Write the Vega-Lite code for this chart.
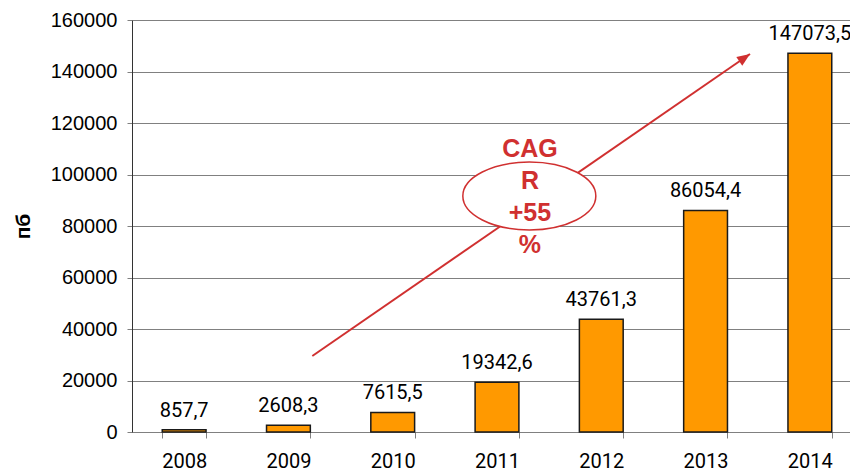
{
  "$schema": "https://vega.github.io/schema/vega-lite/v6.json",
  "width": 718,
  "height": 412,
  "autosize": "none",
  "padding": {"left": 132, "top": 20, "right": 0, "bottom": 40},
  "background": "white",
  "config": {"view": {"stroke": null}},
  "datasets": {
    "bars": [
      {"year": "2008", "value": 857.7, "label": "857,7"},
      {"year": "2009", "value": 2608.3, "label": "2608,3"},
      {"year": "2010", "value": 7615.5, "label": "7615,5"},
      {"year": "2011", "value": 19342.6, "label": "19342,6"},
      {"year": "2012", "value": 43761.3, "label": "43761,3"},
      {"year": "2013", "value": 86054.4, "label": "86054,4"},
      {"year": "2014", "value": 147073.5, "label": "147073,5"}
    ],
    "arrow": [{"ax": 1.729, "value": 29515, "ax2": 5.926, "value2": 146796}],
    "head": [{"ax": 5.926, "value": 146796}],
    "oval": [{"ax": 3.81, "value": 91650}],
    "note": [{"ax": 3.816, "value": 91068, "t": "CAG|R|+55|%"}]
  },
  "layer": [
    {
      "data": {"name": "bars"},
      "mark": {"type": "bar", "color": "#FF9900", "stroke": "#1a1a1a", "strokeWidth": 1.5},
      "encoding": {
        "x": {
          "field": "year", "type": "nominal",
          "scale": {"range": [0, 730], "paddingInner": 0.58, "paddingOuter": 0.29},
          "axis": {
            "title": null, "labelAngle": 0, "labelFont": "Roboto", "labelFontSize": 20,
            "labelColor": "#000", "labelPadding": 13, "tickBand": "extent",
            "tickColor": "#808080", "tickSize": 6, "domainColor": "#808080", "grid": false
          }
        },
        "y": {
          "field": "value", "type": "quantitative",
          "scale": {"domain": [0, 160000], "nice": false},
          "axis": {
            "title": "пб", "values": [0, 20000, 40000, 60000, 80000, 100000, 120000, 140000, 160000],
            "format": "d", "labelFont": "Liberation Sans", "labelFontSize": 20, "labelColor": "#000",
            "labelPadding": 10, "tickSize": 5, "tickColor": "#808080", "grid": true,
            "gridColor": "#808080", "domainColor": "#333", "titleFont": "Liberation Sans",
            "titleFontSize": 21, "titleFontWeight": "bold", "titleColor": "#000",
            "titleAngle": -90, "titleX": -109, "titleY": 206, "titleAlign": "center", "titleBaseline": "middle"
          }
        }
      }
    },
    {
      "data": {"name": "arrow"},
      "mark": {"type": "rule", "color": "#d03030", "strokeWidth": 2},
      "encoding": {
        "x": {"field": "ax", "type": "quantitative", "scale": {"domain": [0, 7], "range": [0, 730], "nice": false, "zero": false}, "axis": null},
        "x2": {"field": "ax2"},
        "y": {"field": "value", "type": "quantitative", "scale": {"domain": [0, 160000], "nice": false}},
        "y2": {"field": "value2"}
      }
    },
    {
      "data": {"name": "head"},
      "mark": {"type": "point", "shape": "M0,0 L-0.4,1 L0.4,1 Z", "size": 676, "filled": true, "color": "#d03030", "opacity": 1, "angle": 55.4},
      "encoding": {
        "x": {"field": "ax", "type": "quantitative", "scale": {"domain": [0, 7], "range": [0, 730], "nice": false, "zero": false}, "axis": null},
        "y": {"field": "value", "type": "quantitative", "scale": {"domain": [0, 160000], "nice": false}}
      }
    },
    {
      "data": {"name": "oval"},
      "mark": {"type": "point", "shape": "M-1,0 A1,0.51,0,1,1,1,0 A1,0.51,0,1,1,-1,0 Z", "size": 17689, "fill": "white", "fillOpacity": 1, "stroke": "#d03030", "strokeWidth": 1.5, "opacity": 1},
      "encoding": {
        "x": {"field": "ax", "type": "quantitative", "scale": {"domain": [0, 7], "range": [0, 730], "nice": false, "zero": false}, "axis": null},
        "y": {"field": "value", "type": "quantitative", "scale": {"domain": [0, 160000], "nice": false}}
      }
    },
    {
      "data": {"name": "note"},
      "mark": {"type": "text", "font": "Liberation Sans", "fontSize": 25, "fontWeight": "bold", "color": "#d03030", "lineBreak": "|", "lineHeight": 32, "align": "center", "baseline": "middle", "dy": -48},
      "encoding": {
        "x": {"field": "ax", "type": "quantitative", "scale": {"domain": [0, 7], "range": [0, 730], "nice": false, "zero": false}, "axis": null},
        "y": {"field": "value", "type": "quantitative", "scale": {"domain": [0, 160000], "nice": false}},
        "text": {"field": "t", "type": "nominal"}
      }
    },
    {
      "data": {"name": "bars"},
      "mark": {"type": "text", "font": "Roboto", "fontSize": 20, "color": "#000", "baseline": "alphabetic", "dy": -13},
      "encoding": {
        "x": {"field": "year", "type": "nominal", "scale": {"range": [0, 730], "paddingInner": 0.58, "paddingOuter": 0.29}, "axis": null},
        "y": {"field": "value", "type": "quantitative", "scale": {"domain": [0, 160000], "nice": false}},
        "text": {"field": "label", "type": "nominal"}
      }
    }
  ],
  "resolve": {"scale": {"x": "independent"}, "axis": {"x": "independent"}}
}
